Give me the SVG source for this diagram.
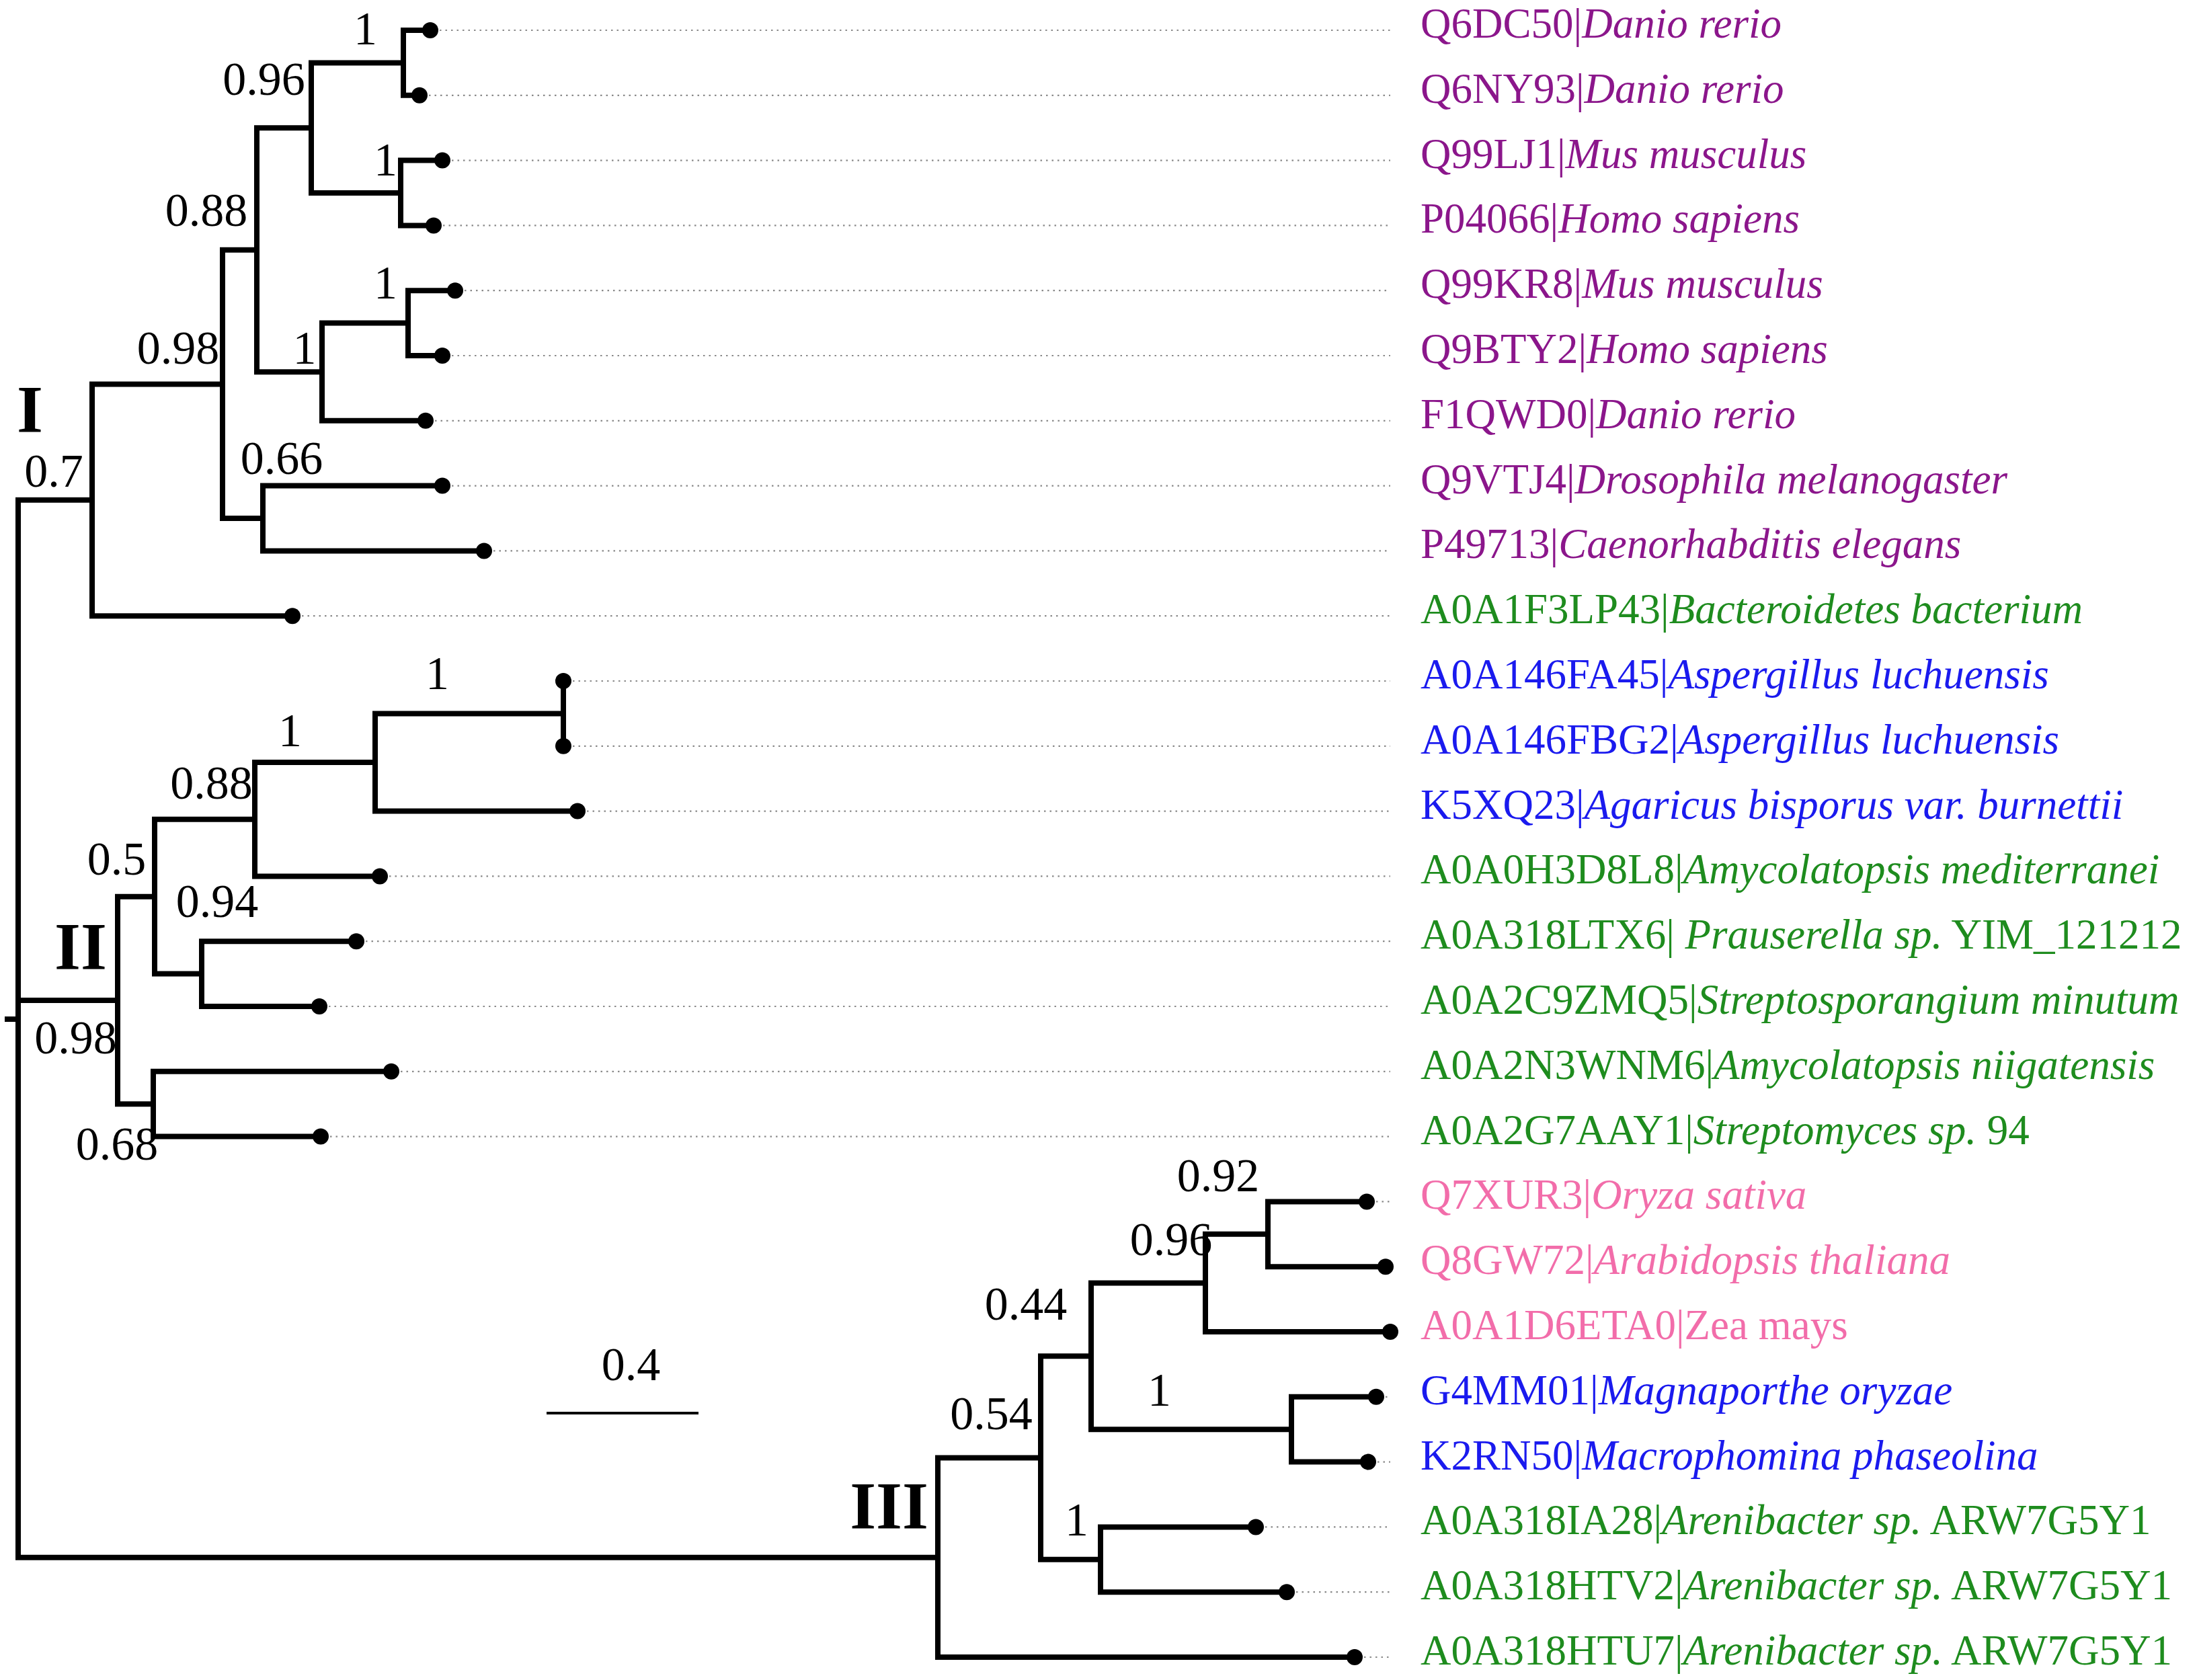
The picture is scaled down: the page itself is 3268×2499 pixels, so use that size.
<svg xmlns="http://www.w3.org/2000/svg" width="3268" height="2499" viewBox="0 0 3268 2499">
<style>
.br{fill:none;stroke:#000;stroke-width:8;stroke-linejoin:miter;stroke-linecap:butt}
.dl{fill:none;stroke:#8a8a8a;stroke-width:2.2;stroke-dasharray:2.5 6}
.dot{fill:#000}
.lb{font-family:"Liberation Serif","Times New Roman",serif;font-size:63px}
.it{font-style:italic}
.bs{font-family:"Liberation Serif","Times New Roman",serif;font-size:70px;fill:#000;text-anchor:middle}
.cl{font-family:"Liberation Serif","Times New Roman",serif;font-size:100px;font-weight:bold;fill:#000;text-anchor:middle}
.p{fill:#8B168B}.g{fill:#1E8C1E}.b{fill:#1A1AEE}.k{fill:#F26DAA}
</style>
<rect width="3268" height="2499" fill="#fff"/>
<g id="connectors">
<path class="br" d="M640 45 H600 V141.8 H624"/>
<path class="br" d="M658 238.6 H596 V335.4 H645"/>
<path class="br" d="M677 432.2 H607 V529 H658"/>
<path class="br" d="M607 480.6 H479 V625.8 H633"/>
<path class="br" d="M600 93.4 H463 V287 H596"/>
<path class="br" d="M463 190.2 H382 V553.2 H479"/>
<path class="br" d="M658 722.6 H391 V819.4 H720"/>
<path class="br" d="M382 371.7 H331 V771 H391"/>
<path class="br" d="M331 571.4 H137 V916.2 H435"/>
<path class="br" d="M137 743.8 H27 V2316.8 H1395"/>
<path class="br" d="M27 1487.9 H175"/>
<path class="br" d="M7 1516 H27"/>
<path class="br" d="M838 1013 V1109.8"/>
<path class="br" d="M838 1061.4 H558 V1206.6 H859"/>
<path class="br" d="M558 1134 H379 V1303.4 H565"/>
<path class="br" d="M530 1400.2 H300 V1497 H475"/>
<path class="br" d="M379 1218.7 H230 V1448.6 H300"/>
<path class="br" d="M582 1593.8 H228 V1690.6 H477"/>
<path class="br" d="M230 1333.7 H175 V1642.2 H228"/>
<path class="br" d="M2033 1787.4 H1886 V1884.2 H2061"/>
<path class="br" d="M1886 1835.8 H1793 V1981 H2068"/>
<path class="br" d="M2047 2077.8 H1921 V2174.6 H2035"/>
<path class="br" d="M1793 1908.4 H1623 V2126.2 H1921"/>
<path class="br" d="M1868 2271.4 H1637 V2368.2 H1914"/>
<path class="br" d="M1623 2017.3 H1548 V2319.8 H1637"/>
<path class="br" d="M1548 2168.6 H1395 V2465 H2015"/>
<path class="dl" d="M654 45 H2068 M638 141.8 H2068 M672 238.6 H2068 M659 335.4 H2068 M691 432.2 H2068 M672 529 H2068 M647 625.8 H2068 M672 722.6 H2068 M734 819.4 H2068 M449 916.2 H2068 M852 1013 H2068 M852 1109.8 H2068 M873 1206.6 H2068 M579 1303.4 H2068 M544 1400.2 H2068 M489 1497 H2068 M596 1593.8 H2068 M491 1690.6 H2068 M2047 1787.4 H2068 M2061 2077.8 H2068 M2049 2174.6 H2068 M1882 2271.4 H2068 M1928 2368.2 H2068 M2029 2465 H2068"/>
</g>
<g id="leaves">
<g id="L1"><circle class="dot" cx="640" cy="45" r="12"/><text class="lb p" x="2113" y="56">Q6DC50|<tspan class="it">Danio rerio</tspan></text></g>
<g id="L2"><circle class="dot" cx="624" cy="141.8" r="12"/><text class="lb p" x="2113" y="152.8">Q6NY93|<tspan class="it">Danio rerio</tspan></text></g>
<g id="L3"><circle class="dot" cx="658" cy="238.6" r="12"/><text class="lb p" x="2113" y="249.6">Q99LJ1|<tspan class="it">Mus musculus</tspan></text></g>
<g id="L4"><circle class="dot" cx="645" cy="335.4" r="12"/><text class="lb p" x="2113" y="346.4">P04066|<tspan class="it">Homo sapiens</tspan></text></g>
<g id="L5"><circle class="dot" cx="677" cy="432.2" r="12"/><text class="lb p" x="2113" y="443.2">Q99KR8|<tspan class="it">Mus musculus</tspan></text></g>
<g id="L6"><circle class="dot" cx="658" cy="529" r="12"/><text class="lb p" x="2113" y="540">Q9BTY2|<tspan class="it">Homo sapiens</tspan></text></g>
<g id="L7"><circle class="dot" cx="633" cy="625.8" r="12"/><text class="lb p" x="2113" y="636.8">F1QWD0|<tspan class="it">Danio rerio</tspan></text></g>
<g id="L8"><circle class="dot" cx="658" cy="722.6" r="12"/><text class="lb p" x="2113" y="733.6">Q9VTJ4|<tspan class="it">Drosophila melanogaster</tspan></text></g>
<g id="L9"><circle class="dot" cx="720" cy="819.4" r="12"/><text class="lb p" x="2113" y="830.4">P49713|<tspan class="it">Caenorhabditis elegans</tspan></text></g>
<g id="L10"><circle class="dot" cx="435" cy="916.2" r="12"/><text class="lb g" x="2113" y="927.2">A0A1F3LP43|<tspan class="it">Bacteroidetes bacterium</tspan></text></g>
<g id="L11"><circle class="dot" cx="838" cy="1013" r="12"/><text class="lb b" x="2113" y="1024">A0A146FA45|<tspan class="it">Aspergillus luchuensis</tspan></text></g>
<g id="L12"><circle class="dot" cx="838" cy="1109.8" r="12"/><text class="lb b" x="2113" y="1120.8">A0A146FBG2|<tspan class="it">Aspergillus luchuensis</tspan></text></g>
<g id="L13"><circle class="dot" cx="859" cy="1206.6" r="12"/><text class="lb b" x="2113" y="1217.6">K5XQ23|<tspan class="it">Agaricus bisporus var. burnettii</tspan></text></g>
<g id="L14"><circle class="dot" cx="565" cy="1303.4" r="12"/><text class="lb g" x="2113" y="1314.4">A0A0H3D8L8|<tspan class="it">Amycolatopsis mediterranei</tspan></text></g>
<g id="L15"><circle class="dot" cx="530" cy="1400.2" r="12"/><text class="lb g" x="2113" y="1411.2" xml:space="preserve">A0A318LTX6| <tspan class="it">Prauserella sp.</tspan> YIM_121212</text></g>
<g id="L16"><circle class="dot" cx="475" cy="1497" r="12"/><text class="lb g" x="2113" y="1508">A0A2C9ZMQ5|<tspan class="it">Streptosporangium minutum</tspan></text></g>
<g id="L17"><circle class="dot" cx="582" cy="1593.8" r="12"/><text class="lb g" x="2113" y="1604.8">A0A2N3WNM6|<tspan class="it">Amycolatopsis niigatensis</tspan></text></g>
<g id="L18"><circle class="dot" cx="477" cy="1690.6" r="12"/><text class="lb g" x="2113" y="1701.6" xml:space="preserve">A0A2G7AAY1|<tspan class="it">Streptomyces sp.</tspan> 94</text></g>
<g id="L19"><circle class="dot" cx="2033" cy="1787.4" r="12"/><text class="lb k" x="2113" y="1798.4">Q7XUR3|<tspan class="it">Oryza sativa</tspan></text></g>
<g id="L20"><circle class="dot" cx="2061" cy="1884.2" r="12"/><text class="lb k" x="2113" y="1895.2">Q8GW72|<tspan class="it">Arabidopsis thaliana</tspan></text></g>
<g id="L21"><circle class="dot" cx="2068" cy="1981" r="12"/><text class="lb k" x="2113" y="1992">A0A1D6ETA0|Zea mays</text></g>
<g id="L22"><circle class="dot" cx="2047" cy="2077.8" r="12"/><text class="lb b" x="2113" y="2088.8">G4MM01|<tspan class="it">Magnaporthe oryzae</tspan></text></g>
<g id="L23"><circle class="dot" cx="2035" cy="2174.6" r="12"/><text class="lb b" x="2113" y="2185.6">K2RN50|<tspan class="it">Macrophomina phaseolina</tspan></text></g>
<g id="L24"><circle class="dot" cx="1868" cy="2271.4" r="12"/><text class="lb g" x="2113" y="2282.4" xml:space="preserve">A0A318IA28|<tspan class="it">Arenibacter sp.</tspan> ARW7G5Y1</text></g>
<g id="L25"><circle class="dot" cx="1914" cy="2368.2" r="12"/><text class="lb g" x="2113" y="2379.2" xml:space="preserve">A0A318HTV2|<tspan class="it">Arenibacter sp.</tspan> ARW7G5Y1</text></g>
<g id="L26"><circle class="dot" cx="2015" cy="2465" r="12"/><text class="lb g" x="2113" y="2476" xml:space="preserve">A0A318HTU7|<tspan class="it">Arenibacter sp.</tspan> ARW7G5Y1</text></g>
</g>
<g id="internal-nodes">
<g id="nE"><text class="bs" x="543.5" y="66">1</text></g>
<g id="nD"><text class="bs" x="392.5" y="140.6">0.96</text></g>
<g id="nF"><text class="bs" x="573.5" y="261">1</text></g>
<g id="nC"><text class="bs" x="307" y="336">0.88</text></g>
<g id="nH"><text class="bs" x="573.5" y="444">1</text></g>
<g id="nB"><text class="bs" x="265" y="541">0.98</text></g>
<g id="nG"><text class="bs" x="453" y="541">1</text></g>
<g id="nJ"><text class="bs" x="419" y="705">0.66</text></g>
<g id="nA"><text class="bs" x="80" y="723.5">0.7</text><text class="cl" x="44.5" y="642">I</text></g>
<g id="nK"><text class="bs" x="650.5" y="1025">1</text></g>
<g id="nL"><text class="bs" x="431.5" y="1109.5">1</text></g>
<g id="nM"><text class="bs" x="314.5" y="1187.5">0.88</text></g>
<g id="nO"><text class="bs" x="173.5" y="1300.6">0.5</text></g>
<g id="nN"><text class="bs" x="323" y="1363.8">0.94</text></g>
<g id="nQ"><text class="cl" x="120" y="1441">II</text><text class="bs" x="112.5" y="1567">0.98</text></g>
<g id="nP"><text class="bs" x="174" y="1725">0.68</text></g>
<g id="nR"><text class="bs" x="1812" y="1772">0.92</text></g>
<g id="nS"><text class="bs" x="1742" y="1866.6">0.96</text></g>
<g id="nU"><text class="bs" x="1526" y="1963">0.44</text></g>
<g id="nT"><text class="bs" x="1724.5" y="2091">1</text></g>
<g id="nW"><text class="bs" x="1474.6" y="2126.4">0.54</text></g>
<g id="nX"><text class="cl" x="1322.5" y="2272.6">III</text></g>
<g id="nV"><text class="bs" x="1601.5" y="2283.5">1</text></g>
</g>
<g id="scale-bar">
<line x1="813" y1="2102" x2="1039" y2="2102" stroke="#000" stroke-width="4"/>
<text class="bs" x="938.5" y="2053">0.4</text>
</g>
</svg>
